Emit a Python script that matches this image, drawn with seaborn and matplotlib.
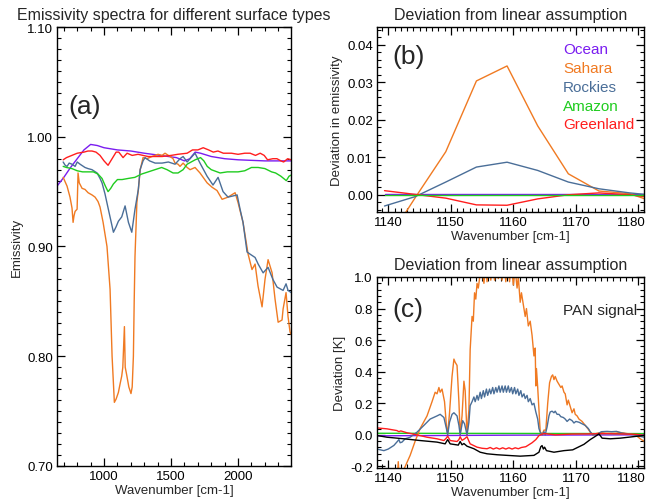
import numpy as np
import pandas as pd
import matplotlib
matplotlib.use("Agg")
import matplotlib.pyplot as plt
import matplotlib.transforms as mtransforms
import seaborn as sns
from matplotlib.ticker import MultipleLocator, FormatStrFormatter

# ---------------- data ----------------
series_names = ["Ocean", "Sahara", "Rockies", "Amazon", "Greenland"]
series_colors = ["#7a1cf0", "#f07a22", "#4a6e98", "#1fcc1f", "#ff1e1e"]
pan_name = "PAN signal"

# Panel (a): emissivity spectra
a_wn_ocean = [649, 700, 750, 800, 850, 900, 950, 1000, 1100, 1200, 1300, 1420, 1540, 1600, 1640,
              1680, 1720, 1800, 1900, 2000, 2200, 2395]
a_ocean = [0.955, 0.963, 0.972, 0.980, 0.988, 0.993, 0.992, 0.990, 0.988, 0.987, 0.985, 0.983, 0.981,
           0.978, 0.980, 0.986, 0.985, 0.982, 0.980, 0.979, 0.978, 0.978]

a_wn_sahara = [695, 724, 746, 761, 769, 776, 784, 799, 806, 815, 836, 858, 881, 910, 933, 955, 970, 993,
               1022, 1045, 1060, 1077, 1090, 1107, 1120, 1132, 1140, 1152, 1158, 1169, 1185, 1201, 1210,
               1219, 1225, 1231, 1245, 1256, 1270, 1291, 1320, 1358, 1403, 1433, 1455, 1493, 1515, 1530,
               1552, 1567, 1590, 1620, 1642, 1679, 1716, 1769, 1806, 1843, 1881, 1925, 1978, 2000, 2037,
               2075, 2104, 2127, 2149, 2179, 2201, 2224, 2254, 2276, 2299, 2328, 2336, 2358, 2373, 2388,
               2396]
a_sahara = [0.963, 0.955, 0.945, 0.935, 0.922, 0.928, 0.932, 0.934, 0.967, 0.958, 0.953, 0.952, 0.949,
            0.947, 0.945, 0.941, 0.936, 0.922, 0.900, 0.861, 0.800, 0.758, 0.761, 0.767, 0.775, 0.782,
            0.790, 0.827, 0.790, 0.783, 0.772, 0.766, 0.772, 0.800, 0.850, 0.891, 0.940, 0.952, 0.970,
            0.981, 0.980, 0.982, 0.984, 0.983, 0.985, 0.982, 0.980, 0.976, 0.975, 0.973, 0.976, 0.972,
            0.970, 0.972, 0.967, 0.958, 0.954, 0.951, 0.943, 0.945, 0.949, 0.940, 0.922, 0.893, 0.879,
            0.884, 0.864, 0.845, 0.870, 0.888, 0.876, 0.852, 0.831, 0.833, 0.843, 0.858, 0.836, 0.822,
            0.820]

a_wn_rockies = [695, 710, 724, 740, 761, 784, 800, 821, 858, 880, 910, 948, 970, 985, 1007, 1032, 1070,
                1090, 1107, 1132, 1157, 1182, 1207, 1231, 1256, 1269, 1291, 1306, 1340, 1381, 1433, 1480,
                1530, 1567, 1590, 1620, 1642, 1679, 1716, 1769, 1813, 1851, 1888, 1925, 1960, 1993, 2015,
                2037, 2067, 2090, 2127, 2150, 2187, 2224, 2260, 2291, 2336, 2358, 2373, 2396]
a_rockies = [0.977, 0.974, 0.973, 0.976, 0.975, 0.973, 0.977, 0.975, 0.972, 0.971, 0.970, 0.967, 0.962,
             0.958, 0.948, 0.934, 0.913, 0.918, 0.923, 0.927, 0.937, 0.922, 0.913, 0.934, 0.952, 0.970,
             0.978, 0.981, 0.978, 0.976, 0.976, 0.977, 0.975, 0.980, 0.982, 0.977, 0.980, 0.985, 0.976,
             0.964, 0.956, 0.963, 0.950, 0.945, 0.946, 0.947, 0.934, 0.922, 0.895, 0.893, 0.890, 0.884,
             0.876, 0.881, 0.870, 0.863, 0.860, 0.866, 0.860, 0.858]

a_wn_amazon = [695, 720, 760, 800, 840, 880, 920, 955, 985, 1010, 1030, 1050, 1070, 1100, 1135, 1180,
               1230, 1280, 1330, 1380, 1430, 1470, 1515, 1552, 1590, 1620, 1680, 1720, 1745, 1770, 1800,
               1866, 1920, 1960, 2000, 2050, 2100, 2150, 2200, 2250, 2280, 2320, 2360, 2380, 2395]
a_amazon = [0.973, 0.972, 0.971, 0.969, 0.968, 0.968, 0.968, 0.966, 0.962, 0.955, 0.950, 0.953, 0.957,
            0.961, 0.961, 0.962, 0.963, 0.966, 0.968, 0.970, 0.972, 0.970, 0.967, 0.967, 0.970, 0.975,
            0.979, 0.981, 0.978, 0.973, 0.970, 0.967, 0.968, 0.968, 0.968, 0.969, 0.972, 0.972, 0.971,
            0.968, 0.967, 0.964, 0.960, 0.964, 0.965]

a_wn_greenland = [695, 720, 760, 800, 850, 880, 910, 940, 970, 1000, 1030, 1060, 1090, 1110, 1142,
                  1172, 1210, 1254, 1328, 1433, 1500, 1550, 1620, 1660, 1700, 1740, 1780, 1815, 1850,
                  1890, 1950, 2000, 2050, 2090, 2130, 2165, 2195, 2220, 2260, 2290, 2320, 2340, 2370,
                  2395]
a_greenland = [0.979, 0.981, 0.983, 0.985, 0.986, 0.987, 0.987, 0.986, 0.983, 0.978, 0.974, 0.980,
               0.986, 0.986, 0.981, 0.985, 0.983, 0.984, 0.982, 0.982, 0.983, 0.984, 0.985, 0.988,
               0.988, 0.990, 0.988, 0.986, 0.987, 0.985, 0.985, 0.984, 0.985, 0.985, 0.983, 0.985,
               0.983, 0.979, 0.980, 0.980, 0.978, 0.977, 0.980, 0.979]

# Panel (b): deviation in emissivity
b_wn = [1139.4, 1144.3, 1149.2, 1154.1, 1159.0, 1163.9, 1168.8, 1173.7, 1178.6, 1183.5]
b_ocean = [0.0001, 0.0001, 0.0001, 0.0001, 0.0001, 0.0001, 0.0001, 0.0001, 0.0001, 0.0001]
b_sahara = [-0.0135, -0.0008, 0.0115, 0.0304, 0.0344, 0.0184, 0.0056, 0.0010, 0.0003, -0.0025]
b_rockies = [-0.0030, -0.0005, 0.0034, 0.0074, 0.0087, 0.0065, 0.0034, 0.0016, 0.0005, -0.0003]
b_amazon = [0.0, 0.0, 0.0, 0.0, 0.0, 0.0, 0.0, 0.0, 0.0, 0.0]
b_greenland = [0.0011, 0.0001, -0.0009, -0.0027, -0.0028, -0.0011, 0.0000, 0.0005, 0.0000, -0.0010]

# Panel (c): deviation in brightness temperature [K]
c_wn_ocean = [1138.2, 1160.0, 1180.9]
c_ocean = [-0.006, -0.002, 0.0]
c_wn_amazon = [1138.2, 1160.0, 1180.9]
c_amazon = [0.010, 0.009, 0.008]

c_wn_sahara = [1138.2, 1141.4, 1141.6, 1141.8, 1142.6, 1143.5, 1144.3, 1145.1, 1146.2, 1147.0, 1147.5,
               1147.8, 1148.1, 1148.3, 1148.6, 1149.0, 1149.3, 1149.5, 1149.8, 1150.2, 1150.5, 1150.7,
               1151.0, 1151.3, 1151.5, 1151.8, 1152.1, 1152.3, 1152.6, 1152.9, 1153.1, 1153.4, 1153.6,
               1153.8, 1154.0, 1154.2, 1154.4, 1154.7, 1155.0, 1155.3, 1155.6, 1155.8, 1156.1, 1156.4,
               1156.7, 1157.0, 1157.3, 1157.6, 1157.9, 1158.2, 1158.5, 1158.8, 1159.1, 1159.4, 1159.7,
               1160.0, 1160.3, 1160.6, 1160.8, 1161.1, 1161.3, 1161.5, 1161.9, 1162.1, 1162.4, 1162.7,
               1163.0, 1163.3, 1163.5, 1163.6, 1163.7, 1163.9, 1164.1, 1164.3, 1164.6, 1164.9, 1165.2,
               1165.5, 1165.8, 1166.1, 1166.3, 1166.5, 1166.7, 1167.0, 1167.3, 1167.6, 1167.8, 1168.1,
               1168.3, 1168.6, 1168.8, 1169.1, 1169.4, 1169.7, 1169.9, 1170.2, 1170.5, 1171.0, 1171.5,
               1172.0, 1172.3, 1172.7, 1173.4, 1174.7, 1176.3, 1177.9, 1179.5, 1180.3, 1180.9]
c_sahara = [-0.45, -0.30, -0.17, -0.30, -0.21, -0.13, -0.04, 0.04, 0.12, 0.21, 0.27,
            0.26, 0.30, 0.27, 0.29, 0.21, 0.06, 0.005, 0.14, 0.37, 0.48, 0.46,
            0.44, 0.21, 0.005, 0.12, 0.34, 0.28, 0.0, 0.16, 0.54, 0.75, 0.72,
            0.90, 0.86, 0.96, 0.93, 1.02, 1.05, 0.96, 1.08, 0.97, 1.10, 0.98,
            1.10, 0.98, 1.10, 0.99, 1.10, 0.98, 1.10, 0.97, 1.10, 0.97, 1.08,
            0.95, 1.05, 0.93, 1.00, 0.84, 0.90, 0.85, 0.75, 0.80, 0.69, 0.72,
            0.63, 0.50, 0.55, 0.31, 0.42, 0.30, 0.16, 0.02, 0.0, 0.03, 0.03,
            0.20, 0.33, 0.37, 0.38, 0.35, 0.37, 0.34, 0.32, 0.30, 0.31, 0.27,
            0.26, 0.19, 0.22, 0.18, 0.14, 0.165, 0.13, 0.12, 0.10, 0.085, 0.06,
            0.035, 0.017, 0.0, 0.01, 0.02, 0.02, 0.01, 0.0, -0.025, -0.04]

c_wn_rockies = [1138.2, 1139.3, 1140.0, 1140.9, 1141.5, 1141.7, 1141.9, 1142.2, 1142.7, 1143.5, 1144.6,
                1145.7, 1146.7, 1147.8, 1148.3, 1148.9, 1149.3, 1149.5, 1149.8, 1150.2, 1150.5, 1151.0,
                1151.3, 1151.5, 1151.9, 1152.2, 1152.6, 1152.9, 1153.1, 1153.4, 1153.7, 1153.9, 1154.2,
                1154.4, 1154.7, 1154.9, 1155.2, 1155.4, 1155.7, 1155.9, 1156.2, 1156.4, 1156.7, 1156.9,
                1157.2, 1157.4, 1157.7, 1157.9, 1158.2, 1158.4, 1158.7, 1158.9, 1159.2, 1159.4, 1159.7,
                1159.9, 1160.2, 1160.4, 1160.7, 1160.9, 1161.2, 1161.4, 1161.7, 1161.9, 1162.2, 1162.4,
                1162.7, 1163.0, 1163.3, 1163.6, 1163.9, 1164.1, 1164.3, 1164.6, 1164.9, 1165.1, 1165.4,
                1165.7, 1165.9, 1166.2, 1166.5, 1166.7, 1167.0, 1167.3, 1167.6, 1168.0, 1168.3, 1168.6,
                1169.0, 1169.4, 1169.7, 1170.0, 1170.5, 1171.0, 1171.5, 1172.0, 1172.3, 1172.7, 1173.4,
                1174.1, 1175.0, 1175.7, 1176.5, 1177.3, 1178.2, 1179.3, 1180.3, 1180.9]
c_rockies = [-0.09, -0.10, -0.09, -0.067, -0.04, -0.03, -0.05, -0.046, -0.025, -0.015, 0.017,
             0.06, 0.10, 0.12, 0.13, 0.11, 0.04, 0.0, 0.08, 0.13, 0.14, 0.12,
             0.06, 0.0, 0.09, 0.07, 0.0, 0.08, 0.185, 0.21, 0.24, 0.21, 0.25,
             0.22, 0.27, 0.23, 0.28, 0.24, 0.29, 0.25, 0.29, 0.26, 0.30, 0.26,
             0.30, 0.27, 0.31, 0.27, 0.31, 0.27, 0.31, 0.27, 0.31, 0.27, 0.30,
             0.26, 0.30, 0.26, 0.29, 0.25, 0.28, 0.24, 0.26, 0.23, 0.25, 0.21,
             0.23, 0.19, 0.20, 0.145, 0.10, 0.04, 0.017, 0.0, 0.02, 0.0, 0.05,
             0.12, 0.145, 0.15, 0.14, 0.15, 0.13, 0.13, 0.115, 0.11, 0.10, 0.085,
             0.10, 0.09, 0.075, 0.085, 0.08, 0.07, 0.06, 0.04, 0.02, 0.0, 0.004,
             0.02, 0.022, 0.02, 0.022, 0.012, 0.006, 0.0, -0.01, -0.015]

c_wn_greenland = [1138.2, 1139.8, 1141.4, 1141.7, 1142.0, 1143.0, 1144.6, 1146.2, 1147.8, 1148.9,
                  1149.3, 1149.5, 1149.9, 1151.0, 1151.3, 1151.5, 1151.8, 1152.2, 1152.6, 1152.9,
                  1153.1, 1154.2, 1155.0, 1155.8, 1156.3, 1156.8, 1157.3, 1157.8, 1158.3, 1158.8,
                  1159.3, 1159.8, 1160.3, 1160.8, 1161.3, 1162.0, 1163.0, 1163.6, 1164.1, 1164.6,
                  1165.0, 1166.7, 1169.4, 1171.8, 1174.7, 1177.1, 1179.8, 1180.9]
c_greenland = [0.044, 0.038, 0.027, 0.020, 0.025, 0.013, 0.0, -0.015, -0.025, -0.036,
               -0.020, -0.008, -0.036, -0.042, -0.030, -0.012, -0.035, -0.025, -0.012, -0.040,
               -0.057, -0.078, -0.085, -0.088, -0.080, -0.090, -0.082, -0.090, -0.082, -0.090,
               -0.082, -0.090, -0.082, -0.088, -0.080, -0.075, -0.050, -0.030, -0.005, 0.005,
               0.008, 0.0, 0.005, 0.006, 0.008, 0.006, 0.003, -0.004]

c_wn_pan = [1138.2, 1139.8, 1142.5, 1145.1, 1147.8, 1149.1, 1149.5, 1149.9, 1151.2, 1151.5, 1151.8,
            1152.1, 1152.6, 1153.7, 1154.7, 1155.8, 1157.4, 1159.0, 1161.1, 1163.3, 1164.1, 1164.4,
            1164.6, 1164.8, 1165.0, 1165.3, 1166.5, 1168.1, 1169.5, 1171.3, 1172.3, 1173.1, 1173.7,
            1174.2, 1175.5, 1177.1, 1179.3, 1180.9]
c_pan = [-0.004, -0.015, -0.025, -0.036, -0.046, -0.057, -0.030, -0.057, -0.065, -0.042, -0.063,
         -0.055, -0.072, -0.088, -0.110, -0.120, -0.126, -0.130, -0.135, -0.130, -0.110, -0.075,
         -0.068, -0.090, -0.078, -0.100, -0.110, -0.100, -0.095, -0.060, -0.030, -0.010, 0.006,
         -0.021, -0.025, -0.021, -0.011, -0.004]


def long_frame(pairs):
    frames = []
    for name, xs, ys in pairs:
        frames.append(pd.DataFrame({"wn": xs, "val": ys, "surface": name}))
    return pd.concat(frames, ignore_index=True)


df_a = long_frame([
    ("Ocean", a_wn_ocean, a_ocean),
    ("Sahara", a_wn_sahara, a_sahara),
    ("Rockies", a_wn_rockies, a_rockies),
    ("Amazon", a_wn_amazon, a_amazon),
    ("Greenland", a_wn_greenland, a_greenland),
])
df_b = long_frame([
    ("Ocean", b_wn, b_ocean),
    ("Sahara", b_wn, b_sahara),
    ("Rockies", b_wn, b_rockies),
    ("Greenland", b_wn, b_greenland),
])
df_b_amazon = long_frame([("Amazon", b_wn, b_amazon)])
df_c = long_frame([
    ("Ocean", c_wn_ocean, c_ocean),
    ("Sahara", c_wn_sahara, c_sahara),
    ("Rockies", c_wn_rockies, c_rockies),
    ("Amazon", c_wn_amazon, c_amazon),
    ("Greenland", c_wn_greenland, c_greenland),
    (pan_name, c_wn_pan, c_pan),
])

palette = dict(zip(series_names, series_colors))
palette[pan_name] = "#000000"

# ---------------- style ----------------
sns.set_style("ticks")
plt.rcParams["font.family"] = ["Liberation Sans", "DejaVu Sans"]
plt.rcParams["axes.linewidth"] = 1.0
plt.rcParams["axes.edgecolor"] = "black"

fig = plt.figure(figsize=(6.46, 5.02), dpi=100)
W, H = 646.0, 502.0
ax_a = fig.add_axes([57 / W, 1 - 467 / H, 234 / W, 439 / H])
ax_b = fig.add_axes([377 / W, 1 - 213 / H, 267 / W, 185 / H])
ax_c = fig.add_axes([377 / W, 1 - 469 / H, 267 / W, 191 / H])

lw = 1.0
sns.lineplot(data=df_a, x="wn", y="val", hue="surface", hue_order=series_names, palette=palette,
             estimator=None, errorbar=None, linewidth=lw, legend=False, ax=ax_a)
sns.lineplot(data=df_b, x="wn", y="val", hue="surface",
             hue_order=["Ocean", "Sahara", "Rockies", "Greenland"], palette=palette,
             estimator=None, errorbar=None, linewidth=lw, legend=False, ax=ax_b)
# the Amazon line is drawn last so that it lies on top of the Ocean line at zero
sns.lineplot(data=df_b_amazon, x="wn", y="val", color=palette["Amazon"],
             estimator=None, errorbar=None, linewidth=lw, legend=False, ax=ax_b)
sns.lineplot(data=df_c, x="wn", y="val", hue="surface",
             hue_order=["Ocean", "Amazon", "Sahara", "Rockies", "Greenland", pan_name],
             palette=palette, estimator=None, errorbar=None, linewidth=lw, legend=False, ax=ax_c)

fs_tick = 9.5
fs_label = 9.5
fs_title = 11.5


def style_axes(ax, xlim, ylim, xmaj, xmin, ymaj, ymin, yfmt, xlabel, ylabel, title):
    ax.set_xlim(*xlim)
    ax.set_ylim(*ylim)
    ax.xaxis.set_major_locator(MultipleLocator(xmaj))
    ax.xaxis.set_minor_locator(MultipleLocator(xmin))
    ax.yaxis.set_major_locator(MultipleLocator(ymaj))
    ax.yaxis.set_minor_locator(MultipleLocator(ymin))
    ax.yaxis.set_major_formatter(FormatStrFormatter(yfmt))
    ax.tick_params(which="both", direction="in", top=True, right=True, colors="black",
                   labelsize=fs_tick, pad=3)
    ax.tick_params(which="major", length=6, width=0.9)
    ax.tick_params(which="minor", length=3, width=0.8)
    for s in ax.spines.values():
        s.set_visible(True)
        s.set_linewidth(1.0)
    ax.set_xlabel(xlabel, fontsize=fs_label, labelpad=1)
    ax.set_ylabel(ylabel, fontsize=fs_label, labelpad=3)
    ax.set_title(title, fontsize=fs_title, pad=6)


style_axes(ax_a, (649, 2395), (0.70, 1.10), 500, 100, 0.1, 0.01, "%.2f",
           "Wavenumber [cm-1]", "Emissivity", "Emissivity spectra for different surface types")
style_axes(ax_b, (1138.2, 1180.9), (-0.0046, 0.0448), 10, 1, 0.01, 0.002, "%.2f",
           "Wavenumber [cm-1]", "Deviation in emissivity", "Deviation from linear assumption")
style_axes(ax_c, (1138.2, 1180.9), (-0.21, 1.0), 10, 1, 0.2, 0.04, "%.1f",
           "Wavenumber [cm-1]", "Deviation [K]", "Deviation from linear assumption")
ax_a.set_xticks([1000, 1500, 2000])

# keep the last x tick label (1180) inside the figure like the original
shift = mtransforms.ScaledTranslation(-7 / 100, 0, fig.dpi_scale_trans)
for ax in (ax_b, ax_c):
    fig.canvas.draw()
    for lab in ax.get_xticklabels():
        if lab.get_text() == "1180":
            lab.set_transform(lab.get_transform() + shift)

ax_a.text(0.047, 0.82, "(a)", transform=ax_a.transAxes, fontsize=19, ha="left", va="center")
ax_b.text(0.056, 0.843, "(b)", transform=ax_b.transAxes, fontsize=19, ha="left", va="center")
ax_c.text(0.056, 0.83, "(c)", transform=ax_c.transAxes, fontsize=19, ha="left", va="center")
ax_c.text(0.697, 0.826, pan_name, transform=ax_c.transAxes, fontsize=11, ha="left", va="center")

legend_y = [0.881, 0.778, 0.676, 0.573, 0.476]
for name, color, yy in zip(series_names, series_colors, legend_y):
    ax_b.text(0.697, yy, name, color=color, transform=ax_b.transAxes, fontsize=11,
              ha="left", va="center")

fig.savefig("out.png", dpi=100)
